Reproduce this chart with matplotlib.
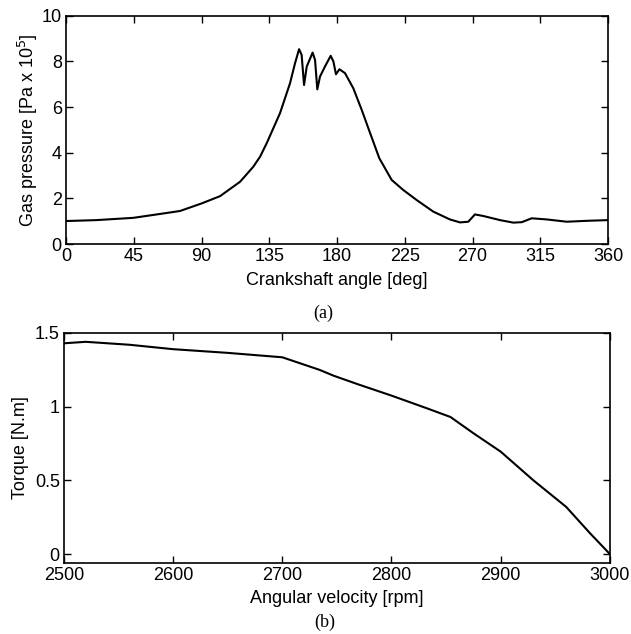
import matplotlib
matplotlib.use("Agg")
import matplotlib.pyplot as plt

# -----------------------------
# Data
# -----------------------------
crank_angle = [0, 20, 44.7, 62.4, 75.7, 90, 102.3, 115.6, 124.4, 128.9, 133.3,
               142.1, 148.8, 152.1, 154.8, 156.5, 158.1, 159.9, 163.8, 165.4,
               166.9, 168.7, 172, 175.8, 177.6, 179.3, 181.6, 185.3, 190.8,
               196.4, 202, 208.1, 216.3, 224, 232.9, 244, 255, 261.7, 267.2,
               271.6, 277.2, 288.3, 297.1, 302.7, 309.3, 319.3, 332.6, 346, 360]
gas_pressure = [1.01, 1.05, 1.15, 1.32, 1.45, 1.78, 2.1, 2.73, 3.39, 3.83, 4.42,
                5.73, 7.05, 7.92, 8.54, 8.29, 6.97, 7.78, 8.39, 8.07,
                6.78, 7.34, 7.78, 8.25, 8.0, 7.44, 7.66, 7.49, 6.83,
                5.88, 4.86, 3.76, 2.81, 2.37, 1.93, 1.42, 1.08, 0.95, 0.98,
                1.3, 1.23, 1.05, 0.94, 0.96, 1.13, 1.08, 0.98, 1.02, 1.05]

speed_rpm = [2500, 2520, 2560, 2600, 2650, 2700, 2734, 2747, 2770, 2800, 2832,
             2854, 2875, 2900, 2930, 2960, 2982, 3000]
torque = [1.43, 1.44, 1.42, 1.39, 1.365, 1.335, 1.25, 1.21, 1.15, 1.075, 0.99,
          0.93, 0.82, 0.695, 0.50, 0.32, 0.14, 0.0]

sans = "Liberation Sans"
serif = "Liberation Serif"
fs = 13

fig = plt.figure(figsize=(6.31, 6.34), dpi=100)

# -----------------------------
# (a) gas pressure
# -----------------------------
ax1 = fig.add_axes([0.1046, 0.615, 0.859, 0.36])
ax1.plot(crank_angle, gas_pressure, color="black", lw=1.5)
ax1.set_xlim(0, 360)
ax1.set_ylim(0, 10)
ax1.set_xticks(range(0, 361, 45))
ax1.set_yticks(range(0, 11, 2))
ax1.set_xlabel("Crankshaft angle [deg]", fontname=sans, fontsize=fs, labelpad=5)
ax1.set_ylabel(r"Gas pressure [Pa x 10$^5$]", fontname=sans, fontsize=fs, labelpad=1)

# -----------------------------
# (b) torque
# -----------------------------
ax2 = fig.add_axes([0.1014, 0.112, 0.865, 0.3628])
ax2.plot(speed_rpm, torque, color="black", lw=1.5)
ax2.set_xlim(2500, 3000)
ax2.set_ylim(-0.061, 1.5)
ax2.set_xticks(range(2500, 3001, 100))
ax2.set_yticks([0, 0.5, 1, 1.5])
ax2.set_yticklabels(["0", "0.5", "1", "1.5"])
ax2.set_xlabel("Angular velocity [rpm]", fontname=sans, fontsize=fs, labelpad=4)
ax2.set_ylabel("Torque [N.m]", fontname=sans, fontsize=fs, labelpad=4)

for ax in (ax1, ax2):
    ax.tick_params(direction="in", top=True, right=True, length=5, width=1,
                   labelsize=fs, pad=3)
    for lab in ax.get_xticklabels() + ax.get_yticklabels():
        lab.set_fontname(sans)
    for sp in ax.spines.values():
        sp.set_linewidth(1.2)

fig.text(0.512, 0.506, "(a)", ha="center", va="center", fontname=serif, fontsize=13)
fig.text(0.515, 0.019, "(b)", ha="center", va="center", fontname=serif, fontsize=13)

fig.savefig("out.png", dpi=100)
